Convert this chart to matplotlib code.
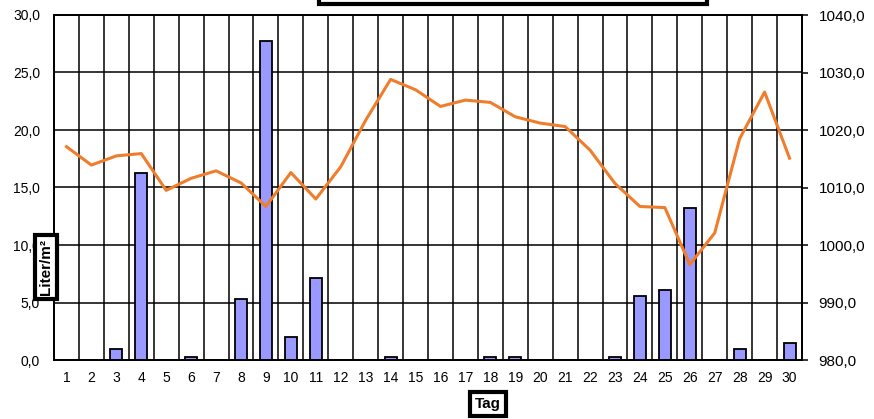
import matplotlib.pyplot as plt
import numpy as np

plt.rcParams['font.family'] = ['Liberation Sans', 'DejaVu Sans']

# Tageswerte
tage = list(range(1, 31))
niederschlag = [0, 0, 1.0, 16.3, 0, 0.3, 0, 5.3, 27.7, 2.0,
                7.1, 0, 0, 0.3, 0, 0, 0, 0.3, 0.3, 0,
                0, 0, 0.3, 5.6, 6.1, 13.2, 0, 1.0, 0, 1.5]
luftdruck = [1017.1, 1013.9, 1015.5, 1015.9, 1009.5, 1011.6, 1012.9, 1010.8, 1006.7, 1012.6,
             1008.0, 1013.6, 1021.7, 1028.8, 1027.0, 1024.1, 1025.2, 1024.8, 1022.3, 1021.2,
             1020.6, 1016.5, 1010.7, 1006.7, 1006.5, 996.6, 1002.1, 1018.5, 1026.6, 1015.1]
titel = 'Tagesniederschlag und Luftdruck im Monat November'

fig = plt.figure(figsize=(8.74, 4.19), dpi=100)
ax = fig.add_axes([54 / 874, 59 / 419, 748 / 874, 345 / 419])

ax.bar(tage, niederschlag, width=0.48, color='#9999FF', edgecolor='black',
       linewidth=1.3, zorder=3)
ax.set_xlim(0.5, 30.5)
ax.set_ylim(0, 30)
ax.set_yticks(np.arange(0, 31, 5))
ax.set_yticklabels(['{:.1f}'.format(v).replace('.', ',') for v in np.arange(0, 31, 5)])
ax.set_xticks(tage)
ax.set_xticks(np.arange(0.5, 31, 1), minor=True)
ax.tick_params(axis='both', which='both', length=0, labelsize=10, colors='black')
ax.tick_params(axis='x', pad=8)
ax.tick_params(axis='y', pad=10)
ax.grid(True, axis='y', which='major', color='black', linewidth=1.1)
ax.grid(True, axis='x', which='minor', color='black', linewidth=1.1)
ax.set_axisbelow(True)
for s in ax.spines.values():
    s.set_linewidth(1.3)

ax2 = ax.twinx()
ax2.plot(tage, luftdruck, color='#F07D2C', linewidth=2.2, zorder=4)
ax2.set_ylim(980, 1040)
ax2.set_yticks(np.arange(980, 1041, 10))
ax2.set_yticklabels(['{:.1f}'.format(v).replace('.', ',') for v in np.arange(980, 1041, 10)])
ax2.tick_params(axis='y', length=4, width=1.1, labelsize=11, pad=8)
for s in ax2.spines.values():
    s.set_linewidth(1.3)

fig.text(46 / 874, 1 - 267 / 419, 'Liter/m²', rotation=90, ha='center', va='center',
         fontsize=11, fontweight='bold',
         bbox=dict(boxstyle='square,pad=0.25', facecolor='white', edgecolor='black', linewidth=3))
fig.text(488 / 874, 1 - 404 / 419, 'Tag', ha='center', va='center',
         fontsize=11, fontweight='bold',
         bbox=dict(boxstyle='square,pad=0.3', facecolor='white', edgecolor='black', linewidth=3))
fig.text(513 / 874, 1 + 1 / 419, titel, ha='center', va='bottom',
         fontsize=10.5, fontweight='bold',
         bbox=dict(boxstyle='square,pad=0.35', facecolor='white', edgecolor='black',
                   linewidth=3))

plt.savefig('out.png', dpi=100)
